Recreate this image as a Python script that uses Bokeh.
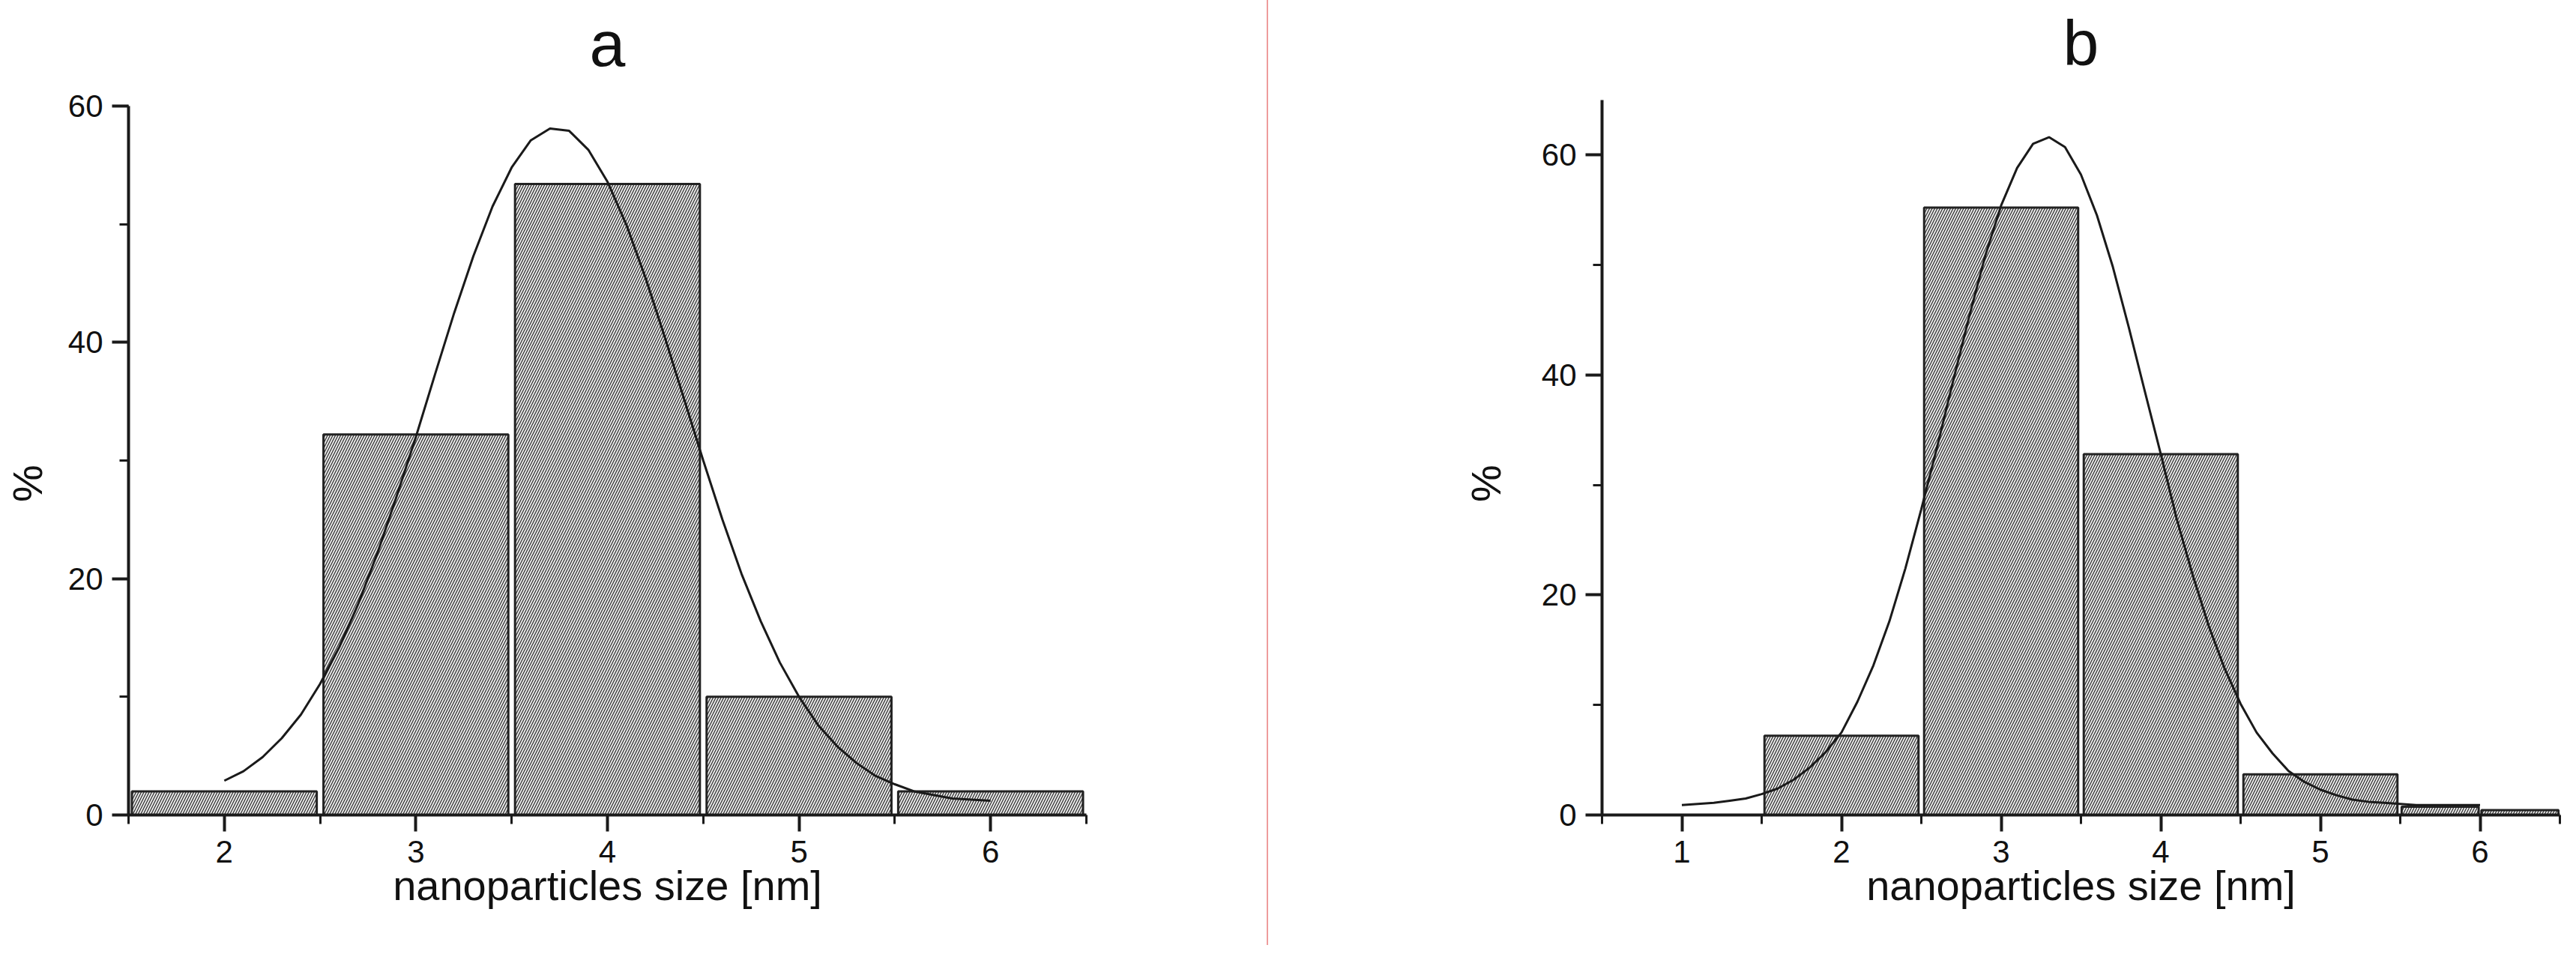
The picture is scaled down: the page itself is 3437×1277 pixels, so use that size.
from bokeh.plotting import figure
from bokeh.models import SingleIntervalTicker, Range1d, Div
from bokeh.core.properties import value
from bokeh.layouts import row
from bokeh.embed import file_html
from bokeh.resources import INLINE

# ---------------- data ----------------
# panel a histogram
a_centers = [2, 3, 4, 5, 6]
a_widths = [1, 1, 1, 1, 1]
a_percent = [2.0, 32.2, 53.4, 10.0, 2.0]
# panel a fitted curve
a_curve_x = [2.0, 2.1, 2.2, 2.3, 2.4, 2.5, 2.6, 2.7, 2.8, 2.9,
             3.0, 3.1, 3.2, 3.3, 3.4, 3.5, 3.6, 3.7, 3.8, 3.9,
             4.0, 4.1, 4.2, 4.3, 4.4, 4.5, 4.6, 4.7, 4.8, 4.9,
             5.0, 5.1, 5.2, 5.3, 5.4, 5.5, 5.6, 5.7, 5.8, 5.9, 6.0]
a_curve_y = [2.9, 3.7, 4.9, 6.5, 8.5, 11.1, 14.2, 17.9, 22.2, 27.0,
             32.0, 37.3, 42.5, 47.3, 51.5, 54.8, 57.1, 58.1, 57.9, 56.3,
             53.6, 49.9, 45.4, 40.4, 35.2, 30.0, 25.0, 20.4, 16.4, 12.9,
             10.0, 7.6, 5.8, 4.4, 3.3, 2.6, 2.0, 1.7, 1.4, 1.3, 1.2]

# panel b histogram
b_centers = [2, 3, 4, 5, 5.75, 6.25]
b_widths = [1, 1, 1, 1, 0.5, 0.5]
b_percent = [7.2, 55.2, 32.8, 3.7, 0.75, 0.45]
# panel b fitted curve
b_curve_x = [1.0, 1.1, 1.2, 1.3, 1.4, 1.5, 1.6, 1.7, 1.8, 1.9,
             2.0, 2.1, 2.2, 2.3, 2.4, 2.5, 2.6, 2.7, 2.8, 2.9,
             3.0, 3.1, 3.2, 3.3, 3.4, 3.5, 3.6, 3.7, 3.8, 3.9,
             4.0, 4.1, 4.2, 4.3, 4.4, 4.5, 4.6, 4.7, 4.8, 4.9,
             5.0, 5.1, 5.2, 5.3, 5.4, 5.5, 5.6, 5.7, 5.8, 5.9, 6.0]
b_curve_y = [0.9, 1.0, 1.1, 1.3, 1.5, 1.9, 2.4, 3.2, 4.3, 5.7,
             7.5, 10.3, 13.6, 17.6, 22.4, 27.8, 33.5, 39.5, 45.3, 50.8,
             55.4, 58.8, 61.0, 61.6, 60.7, 58.2, 54.5, 49.8, 44.3, 38.5,
             32.8, 26.9, 21.8, 17.2, 13.3, 10.1, 7.5, 5.6, 4.0, 3.0,
             2.3, 1.8, 1.4, 1.2, 1.1, 1.0, 0.9, 0.9, 0.9, 0.9, 0.9]

x_label = "nanoparticles size [nm]"
y_label = "%"

FONT = "Liberation Sans"
H = 1261
# trailing no-break spaces push the rotated "%" down along the axis
YLAB_PAD = "\u00a0" * 13


def panel(title, width, xr, ymax, borders, title_gap, ylab_standoff,
          centers, widths, tops, cx, cy):
    bl, br, bt, bb = borders
    # the plotting frame reaches the top of the canvas so that the big
    # panel letter can sit above the end of the y axis
    axis_px = H - bt - bb
    ppu = axis_px / ymax
    y_end = ymax + bt / ppu
    p = figure(width=width, height=H, x_range=Range1d(*xr),
               y_range=Range1d(0, y_end), title=None,
               output_backend="svg", toolbar_location=None,
               min_border_left=bl, min_border_right=br,
               min_border_top=0, min_border_bottom=bb)
    p.outline_line_color = None
    p.grid.visible = False
    p.background_fill_color = "white"
    p.border_fill_color = "white"

    bar_w = [w * 0.965 for w in widths]
    p.vbar(x=centers, width=bar_w, top=tops, bottom=0,
           fill_color="#efefef", line_color="#222222", line_width=3,
           hatch_pattern="/", hatch_color="#3c3c3c", hatch_weight=1.4,
           hatch_scale=7)
    p.line(cx, cy, line_color="#1a1a1a", line_width=3)

    p.text(x=[(xr[0] + xr[1]) / 2], y=[ymax + title_gap / ppu], text=[title],
           text_font=value(FONT), text_font_size="86px", text_color="#111111",
           text_align="center", text_baseline="alphabetic")

    for ax in (p.xaxis[0], p.yaxis[0]):
        ax.axis_line_width = 4
        ax.axis_line_color = "#1a1a1a"
        ax.major_tick_line_width = 4
        ax.minor_tick_line_width = 3
        ax.major_tick_line_color = "#1a1a1a"
        ax.minor_tick_line_color = "#1a1a1a"
        ax.major_tick_in = 0
        ax.minor_tick_in = 0
        ax.major_tick_out = 22
        ax.minor_tick_out = 12
        ax.major_label_text_font = FONT
        ax.major_label_text_font_size = "42px"
        ax.major_label_text_color = "#111111"
        ax.axis_label_text_font = FONT
        ax.axis_label_text_font_size = "56px"
        ax.axis_label_text_font_style = "normal"
        ax.axis_label_text_color = "#111111"
        ax.major_label_standoff = 12

    p.xaxis.ticker = SingleIntervalTicker(interval=1, num_minor_ticks=2)
    p.yaxis.ticker = SingleIntervalTicker(interval=20, num_minor_ticks=2)
    p.yaxis.bounds = (0, ymax)
    p.xaxis.axis_label = x_label
    p.xaxis.axis_label_standoff = -4
    p.yaxis.axis_label = y_label + YLAB_PAD
    p.yaxis.axis_label_standoff = ylab_standoff
    return p


pa = panel("a", 1690, (1.5, 6.5), 60, (171, 241, 141, 174), 84, 20,
           a_centers, a_widths, a_percent, a_curve_x, a_curve_y)
pb = panel("b", 1729, (0.5, 6.5), 65, (445, 6, 133, 171), 76, 40,
           b_centers, b_widths, b_percent, b_curve_x, b_curve_y)

divider = Div(width=2, height=H, margin=(0, 0, 0, 0),
              styles={"background-color": "#ee9c9c"})

layout = row(pa, divider, pb, spacing=0)

open("out.html", "w").write(file_html(layout, INLINE))
